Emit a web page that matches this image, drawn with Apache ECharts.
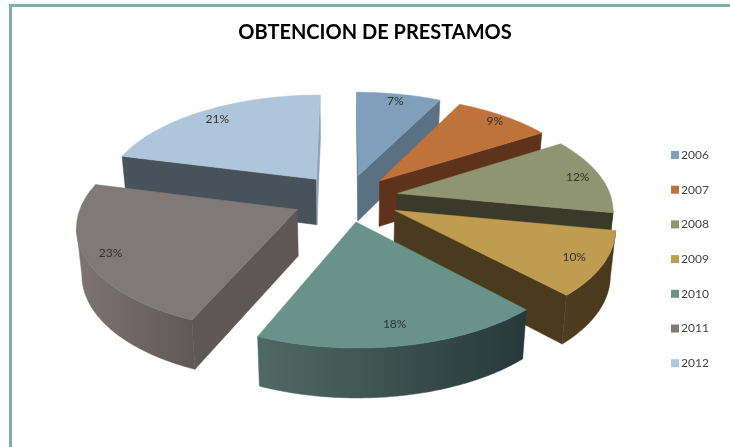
<!DOCTYPE html>
<html><head><meta charset="utf-8">
<style>html,body{margin:0;padding:0;background:#fff}#c{width:730px;height:447px}</style>
<script src="https://cdn.jsdelivr.net/npm/echarts@6/dist/echarts.min.js"></script>
</head><body><div id="c"></div>
<script>
var years = ['2006','2007','2008','2009','2010','2011','2012'];
var shares = [7.4,8.6,12,10,18.4,22.6,21];
var topColors = ['#7f9fba','#c0723b','#8e9570','#bf9c50','#68928a','#807978','#afc5da'];
var wallStartColors = ['#5a7184','#5f331b','#3a3a2a','#4b3b1e','#2a3b3a','#5f5756','#48525a'];
var wallEndColors = ['#5a7184','#5f331b','#3a3a2a','#4b3b1e','#2a3b3a','#5f5756','#8ba3bb'];
var rimLeftColors = ['#5a7184','#5f331b','#3a3a2a','#4f3f20','#4f6a62','#7f7474','#48525a'];
var rimRightColors = ['#5a7184','#5f331b','#3a3a2a','#483819','#27383a','#5f5756','#48525a'];
var labelRatios = [0.9,0.92,0.89,0.87,0.85,0.89,0.87];
var explodes = [0.233,0.233,0.24,0.25,0.233,0.255,0.24];
var drawOrder = [0,6,1,2,3,5,4];

var view = {cx:347,cy:198,A:214,B:101,k:0.14,slant:0.98,depth:46,depthGrow:23};

var total = shares.reduce(function(a,b){return a+b;},0);
var starts = [], acc = 0;
shares.forEach(function(v){starts.push(acc/total*Math.PI*2);acc+=v;});

function project(i,theta,r){
  var mid = starts[i]+shares[i]/total*Math.PI;
  var X = r*Math.sin(theta)+explodes[i]*Math.sin(mid);
  var Y = -r*Math.cos(theta)-explodes[i]*Math.cos(mid);
  var w = 1-view.k*Y;
  return {x:view.cx+view.A*X/w,y:view.cy+view.B*Y/w,w:w};
}
function upperPt(p){return [p.x,p.y];}
function lowerPt(p){return [view.cx+view.slant*(p.x-view.cx),p.y+view.depth+(1-p.w)*view.depthGrow];}
function poly(points,fill){
  return {type:'polygon',shape:{points:points},style:{fill:fill,stroke:fill,lineWidth:0.5}};
}
function renderSlice(i){
  return function(params,api){
    var t0 = starts[i];
    var t1 = t0+api.value(0)/total*Math.PI*2;
    var mid = (t0+t1)/2;
    var apex = project(i,t0,0);
    var rim = [], n = 80, j;
    for(j=0;j<=n;j++){rim.push(project(i,t0+(t1-t0)*j/n,1));}
    var kids = [];
    var a = rim[0], b = rim[n];
    if(a.x<apex.x){kids.push(poly([upperPt(apex),upperPt(a),lowerPt(a),lowerPt(apex)],wallStartColors[i]));}
    if(apex.x<b.x){kids.push(poly([upperPt(b),upperPt(apex),lowerPt(apex),lowerPt(b)],wallEndColors[i]));}
    var upper=[],lower=[];
    for(j=0;j<=n;j++){
      var front = (j<n&&rim[j+1].x<rim[j].x)||(j>0&&rim[j].x<rim[j-1].x);
      if(front){upper.push(upperPt(rim[j]));lower.unshift(lowerPt(rim[j]));}
    }
    if(upper.length>1){
      kids.push(poly(upper.concat(lower),new echarts.graphic.LinearGradient(0,0,1,0,[
        {offset:0,color:rimLeftColors[i]},{offset:1,color:rimRightColors[i]}])));
    }
    var face=[upperPt(apex)];
    rim.forEach(function(p){face.push(upperPt(p));});
    kids.push(poly(face,topColors[i]));
    var lp = project(i,mid,labelRatios[i]);
    kids.push({type:'text',x:lp.x,y:lp.y,style:{text:Math.round(api.value(0))+'%',
      font:'12px Lato',fill:'#333',align:'center',verticalAlign:'middle'}});
    return {type:'group',children:kids};
  };
}
var seriesList = drawOrder.map(function(i){
  return {type:'custom',name:years[i],coordinateSystem:'none',
    renderItem:renderSlice(i),data:[[shares[i]]],
    itemStyle:{color:topColors[i]},silent:true,animation:false,z:2};
});
var chart = echarts.init(document.getElementById('c'),null,{renderer:'canvas'});
chart.setOption({
  animation:false,backgroundColor:'#fff',
  title:{text:'OBTENCION DE PRESTAMOS',left:370,top:18,textAlign:'center',
    textStyle:{fontFamily:'Lato',fontWeight:'bold',fontSize:20,color:'#000'}},
  legend:{data:years,orient:'vertical',left:671,top:149,itemWidth:8,itemHeight:8,itemGap:22.7,
    icon:'rect',selectedMode:false,padding:0,
    textStyle:{fontFamily:'Lato',fontSize:12,color:'#444',padding:[0,0,0,-3]}},
  graphic:[
    {type:'rect',shape:{x:9,y:4,width:3,height:443},style:{fill:'#7fb0a4'},silent:true},
    {type:'rect',shape:{x:9,y:4,width:721,height:3},style:{fill:'#7fb0a4'},silent:true}
  ],
  series:seriesList
});
</script></body></html>
